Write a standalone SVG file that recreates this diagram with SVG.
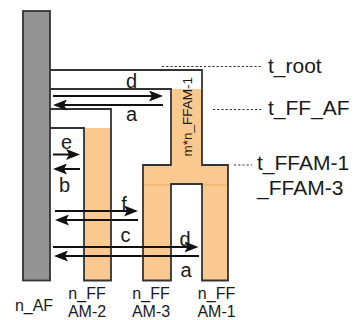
<svg xmlns="http://www.w3.org/2000/svg" width="360" height="320" viewBox="0 0 360 320">
<style>
.frame{fill:none;stroke:#333;stroke-width:1.8;stroke-linejoin:miter}
.orange{fill:#f9c98f}
.arr{fill:none;stroke:#111;stroke-width:2;marker-end:url(#ah)}
.lbl{font-family:"Liberation Sans",Arial,sans-serif;font-size:20px;fill:#1a1a1a;text-anchor:middle}
.tl{font-family:"Liberation Sans",Arial,sans-serif;font-size:21px;fill:#1a1a1a}
.nl{font-family:"Liberation Sans",Arial,sans-serif;font-size:16px;fill:#1a1a1a;text-anchor:middle}
.dot{fill:none;stroke:#333;stroke-width:1.2;stroke-dasharray:2.2 2}
</style>
<defs>
<marker id="ah" viewBox="0 0 14 11" markerWidth="14" markerHeight="11" refX="6" refY="5.5" orient="auto" markerUnits="userSpaceOnUse">
<path d="M0,0 L14,5.5 L0,11 L3,5.5 Z" fill="#111"/>
</marker>
</defs>
<rect width="360" height="320" fill="#fff"/>
<g id="n_AF">
<rect x="23" y="11" width="27" height="269.5" fill="#939393" stroke="#333" stroke-width="1.8"/>
<text class="nl" x="34" y="311">n_AF</text>
</g>
<g id="n_FFAM-1_3">
<path class="orange" d="M171,89 H202 V165 H228 V280.5 H202 V184 H171 V280.5 H143 V165 H171 Z"/>
<path d="M143,185 H171 M202,185 H228" stroke="#eeaa60" stroke-width="1"/>
<path class="frame" d="M50,70 H202 V165 H228 V280.5 H202 V184 H171 V280.5 H143 V165 H171 V89 H50"/>
<text style="font-family:'Liberation Sans',Arial,sans-serif;font-size:13.5px;fill:#1a1a1a;text-anchor:middle" transform="translate(191.5,116.7) rotate(-90)">m*n_FFAM-1</text>
<text class="nl" x="151" y="298.5">n_FF</text>
<text class="nl" x="151" y="316.5">AM-3</text>
<text class="nl" x="216.5" y="298.5">n_FF</text>
<text class="nl" x="216.5" y="316.5">AM-1</text>
</g>
<g id="n_FFAM-2">
<rect class="orange" x="84" y="128" width="27" height="152.5"/>
<path class="frame" d="M50,109 H111 V280.5 H84 V128 H50"/>
<text class="nl" x="87" y="298.5">n_FF</text>
<text class="nl" x="87" y="316.5">AM-2</text>
</g>
<g id="levels">
<path class="dot" d="M162,66.5 H262"/>
<text class="tl" x="268" y="73.3">t_root</text>
<path class="dot" d="M213,109.5 H262"/>
<text class="tl" x="268" y="114.5">t_FF_AF</text>
<path class="dot" d="M234,165 H252"/>
<text class="tl" x="257" y="169.5">t_FFAM-1</text>
<text class="tl" x="257" y="195">_FFAM-3</text>
</g>
<g id="connectors">
<path class="arr" d="M53,96 H155"/>
<path class="arr" d="M163,105 H61"/>
<path class="arr" d="M53,154.5 H72"/>
<path class="arr" d="M80,169 H61"/>
<path class="arr" d="M55,211 H130"/>
<path class="arr" d="M138,220 H63"/>
<path class="arr" d="M53,247 H190.5"/>
<path class="arr" d="M199,256 H62"/>
<text class="lbl" x="131.5" y="88">d</text>
<text class="lbl" x="131.5" y="120.5">a</text>
<text class="lbl" x="66.5" y="149">e</text>
<text class="lbl" x="64.5" y="191.5">b</text>
<text class="lbl" x="124" y="210.5">f</text>
<text class="lbl" x="125.5" y="241.5">c</text>
<text class="lbl" x="185" y="246">d</text>
<text class="lbl" x="186" y="277">a</text>
</g>
</svg>
